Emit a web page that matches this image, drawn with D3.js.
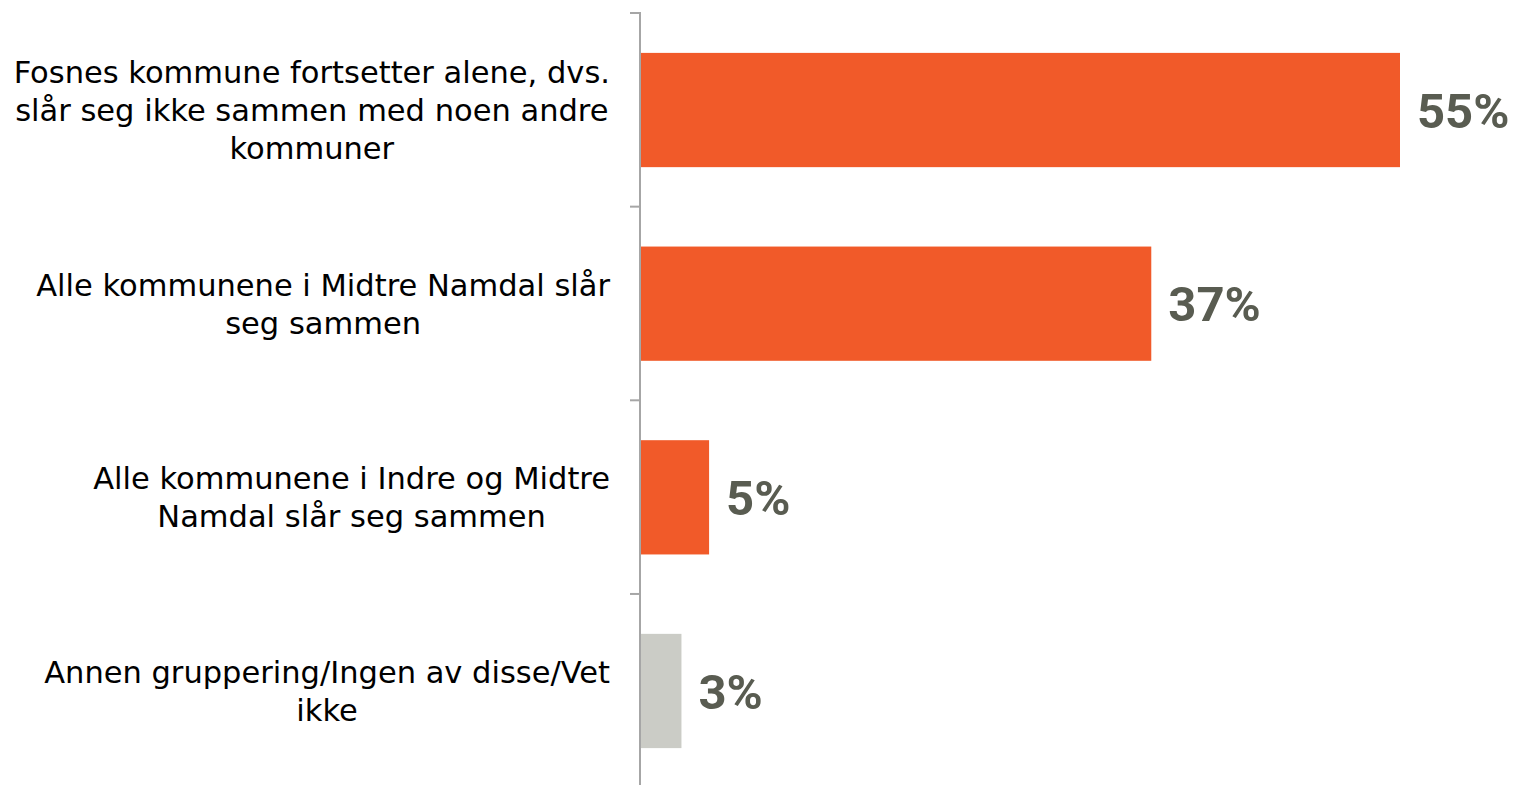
<!DOCTYPE html>
<html>
<head>
<meta charset="utf-8">
<script src="https://cdn.jsdelivr.net/npm/d3@7"></script>
<style>
  body { margin: 0; background: #fff; }
  svg { display: block; }
</style>
</head>
<body>
<svg id="chart"></svg>
<script>
// Categories (label lines as wrapped in the original) and values
const categories = [
  ["Fosnes kommune fortsetter alene, dvs.", "slår seg ikke sammen med noen andre", "kommuner"],
  ["Alle kommunene i Midtre Namdal slår", "seg sammen"],
  ["Alle kommunene i Indre og Midtre", "Namdal slår seg sammen"],
  ["Annen gruppering/Ingen av disse/Vet", "ikke"]
];
const values = [55, 37, 5, 3];
const barColors = ["#F15A29", "#F15A29", "#F15A29", "#CBCCC6"];

const width = 1515;
const height = 785;
const marginTop = 13;
const marginLeft = 640;

const svg = d3.select("#chart")
    .attr("width", width)
    .attr("height", height)
    .attr("viewBox", [0, 0, width, height]);

const keys = categories.map((d, i) => i);

const y = d3.scaleBand(keys, [marginTop, 788])
    .paddingInner(0.41)
    .paddingOuter(0.206);

const x = d3.scaleLinear([0, 55], [marginLeft, 1400]);

// Bars
svg.append("g")
  .selectAll("rect")
  .data(values)
  .join("rect")
    .attr("x", x(0) + 1)
    .attr("y", (d, i) => y(i))
    .attr("width", d => x(d) - x(0) - 1)
    .attr("height", y.bandwidth())
    .attr("fill", (d, i) => barColors[i]);

// Axis line with ticks between categories
const step = y.step();
const tickYs = d3.range(categories.length).map(i => marginTop + i * step);
const axis = svg.append("g").attr("stroke", "#A6A6A6").attr("stroke-width", 2);
axis.append("line")
    .attr("x1", marginLeft).attr("x2", marginLeft)
    .attr("y1", marginTop - 1).attr("y2", height);
axis.selectAll("line.tick")
  .data(tickYs)
  .join("line")
    .attr("class", "tick")
    .attr("x1", marginLeft - 10).attr("x2", marginLeft)
    .attr("y1", d => d).attr("y2", d => d);

// Category labels: block right-aligned at x=610, lines centred within the block
const lineHeight = 38;
const labelRight = 610;
svg.append("g")
  .selectAll("text")
  .data(categories)
  .join("text")
    .attr("text-anchor", "middle")
    .attr("font-family", "'DejaVu Sans', sans-serif")
    .attr("font-size", 30.5)
    .attr("fill", "#000")
    .each(function(lines, i) {
      const cy = y(i) + y.bandwidth() / 2;
      const y0 = cy - (lines.length - 1) * lineHeight / 2;
      const spans = d3.select(this).selectAll("tspan")
        .data(lines)
        .join("tspan")
          .attr("y", (d, j) => y0 + j * lineHeight)
          .attr("dy", "0.36em")
          .text(d => d);
      const maxW = d3.max(spans.nodes(), n => n.getComputedTextLength());
      spans.attr("x", labelRight - maxW / 2);
    });

// Value labels
svg.append("g")
  .selectAll("text")
  .data(values)
  .join("text")
    .attr("x", d => x(d) + 17)
    .attr("y", (d, i) => y(i) + y.bandwidth() / 2)
    .attr("dy", "0.36em")
    .attr("font-family", "Roboto, sans-serif")
    .attr("font-weight", "bold")
    .attr("font-size", 49)
    .attr("fill", "#595C51")
    .text(d => d + "%");
</script>
</body>
</html>
